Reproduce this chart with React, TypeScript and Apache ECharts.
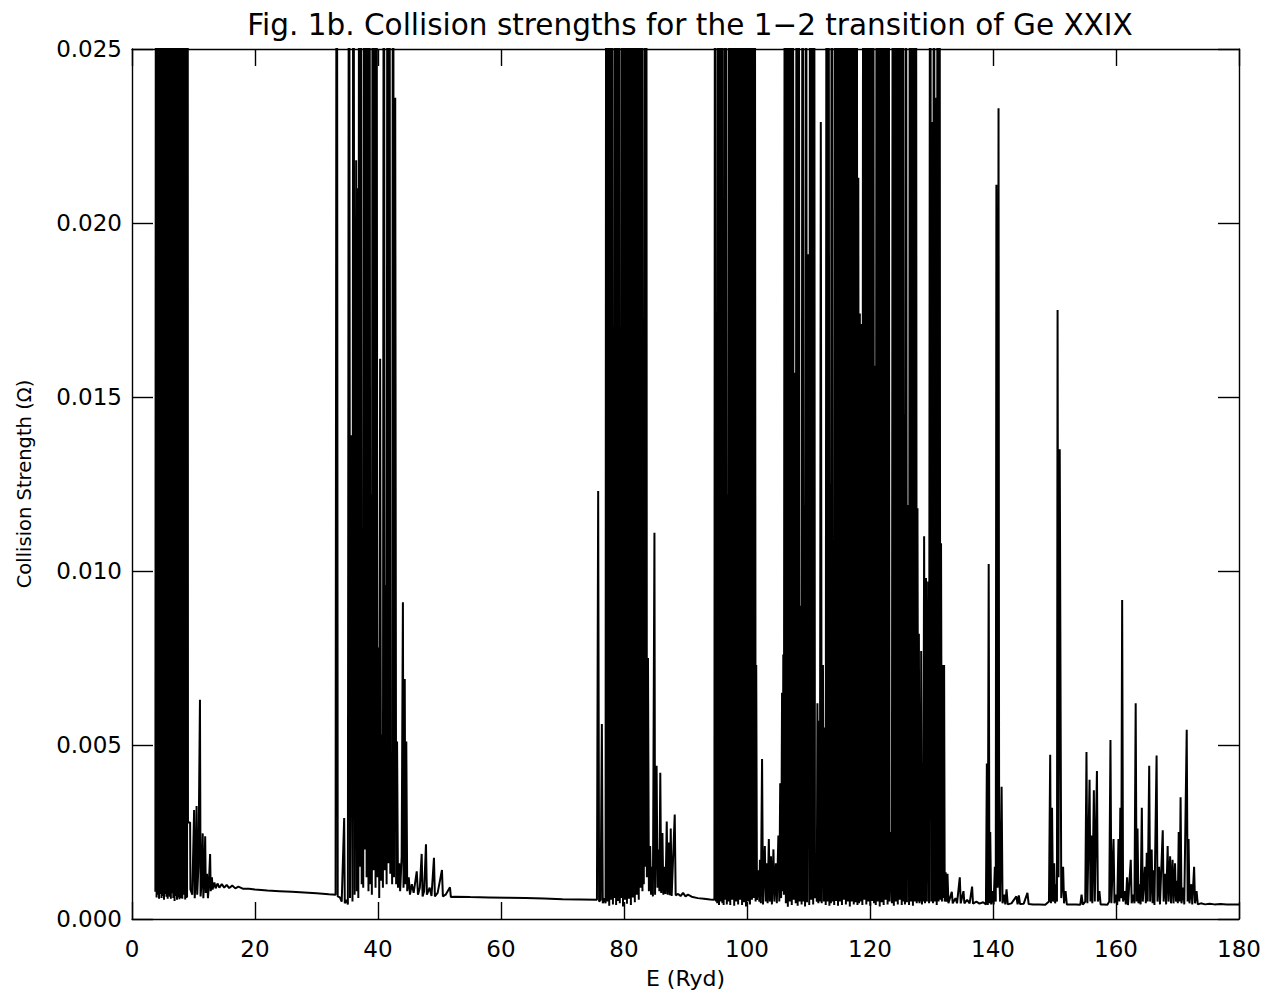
import React, { useEffect, useRef } from "react";
import * as echarts from "echarts";

// Energies in Ryd, collision strength in units of 1e-3 (flat lists: E, Omega*1000, ...)
// values above 25 run off the top of the frame and are clipped, as in the original figure
const thresholdBand: number[] = [
  3.80,0.78, 3.90,40, 4.00,0.62, 4.10,40, 4.20,0.70, 4.30,40, 4.40,0.58, 4.50,40, 4.60,0.72, 4.70,40,
  4.80,0.60, 4.90,40, 5.00,0.66, 5.10,40, 5.20,0.55, 5.30,40, 5.40,0.72, 5.50,40, 5.60,0.64, 5.70,40,
  5.80,0.58, 5.90,40, 6.00,0.70, 6.07,3.5, 6.14,0.64, 6.22,40, 6.32,0.58, 6.42,40, 6.52,0.74, 6.62,40,
  6.72,0.60, 6.82,40, 6.92,0.52, 7.02,40, 7.12,0.66, 7.22,40, 7.32,0.55, 7.42,40, 7.52,0.62, 7.62,40,
  7.72,0.57, 7.80,40, 7.88,0.60, 7.93,15.7, 7.98,0.60, 8.08,40, 8.18,0.58, 8.26,40, 8.33,0.70, 8.38,12.0,
  8.45,0.70, 8.55,40, 8.65,0.56, 8.72,40, 8.79,0.60, 8.85,19.5, 8.95,0.62, 9.05,40, 9.10,2.77, 9.45,2.77,
  9.50,0.85,
];
const lowTail1: number[] = [
  9.80,0.70, 10.10,3.13, 10.20,0.60, 10.35,1.2, 10.50,3.25, 10.60,0.70, 10.80,1.5, 11.05,6.3, 11.15,0.65,
  11.30,1.0, 11.50,2.46, 11.60,0.60, 11.75,1.2, 11.90,2.38, 12.00,0.75, 12.20,1.3, 12.35,0.60, 12.50,1.0,
  12.70,1.87, 12.80,0.80, 13.00,1.2, 13.10,0.85, 13.40,1.05, 13.60,0.88, 13.90,1.02, 14.20,0.90, 14.60,1.0,
  15.00,0.90, 15.40,0.98, 15.80,0.89, 16.30,0.96, 16.80,0.88, 17.30,0.93, 18.00,0.87, 19.00,0.87, 20.00,0.85,
  22.00,0.82, 24.00,0.80, 26.00,0.78, 28.00,0.76, 30.00,0.74, 32.00,0.71, 33.10,0.70,
];
const band2: number[] = [
  33.30,40, 33.45,0.65, 33.80,0.62, 34.10,0.50, 34.50,2.9, 34.60,0.45, 34.90,0.55, 35.10,0.42, 35.30,40,
  35.45,0.60, 35.70,13.9, 35.85,0.50, 36.00,40, 36.20,0.70, 36.45,21.8, 36.55,0.80, 36.65,21.0, 36.80,0.60,
  36.95,40, 37.10,1.5, 37.20,40, 37.35,1.0, 37.45,7.2, 37.60,0.90, 37.75,40, 37.90,2.0, 38.00,40, 38.15,1.2,
  38.30,40, 38.45,0.80, 38.60,40, 38.75,1.0, 38.90,12.2, 39.00,0.70, 39.15,40, 39.30,1.4, 39.45,40, 39.60,0.90,
  39.75,40, 39.90,1.2, 40.05,7.8, 40.20,0.60, 40.35,16.1, 40.50,1.1, 40.65,5.3, 40.80,0.90, 40.95,40, 41.10,1.4,
  41.25,9.6, 41.40,1.0, 41.55,40, 41.70,1.6, 41.85,40, 42.00,1.3, 42.15,4.7, 42.30,1.0, 42.45,40, 42.60,1.2,
  42.80,23.6, 42.95,1.0, 43.10,5.1, 43.25,0.90, 43.45,1.6, 43.60,0.80, 43.85,1.8, 44.05,9.1, 44.15,0.90,
  44.35,6.9, 44.45,1.0, 44.60,5.1, 44.75,0.80, 45.00,1.2, 45.20,0.70, 45.50,1.0, 45.80,0.75, 46.30,1.37,
  46.50,0.70, 46.80,0.90, 47.10,1.87, 47.25,0.65, 47.50,0.80, 47.80,2.15, 47.95,0.70, 48.40,0.90, 48.70,0.66,
  49.10,1.76, 49.25,0.65, 49.70,0.75, 50.40,1.41, 50.55,0.65, 51.00,0.70, 51.70,0.91, 51.85,0.63,
];
const plateau2: number[] = [
  52.5,0.64, 55,0.63, 58,0.62, 61,0.61, 64,0.60, 67,0.59, 70,0.57, 73,0.56, 75.6,0.55, 75.8,12.3,
  75.95,0.50, 76.2,0.55, 76.4,5.6, 76.55,0.45, 76.8,0.60,
];
const band3: number[] = [
  77.00,0.45, 77.12,40, 77.28,0.50, 77.44,40, 77.60,0.38, 77.76,40, 77.92,0.55, 78.08,40, 78.20,0.42, 78.30,6.7,
  78.42,0.60, 78.56,40, 78.72,0.40, 78.88,40, 79.04,0.52, 79.20,40, 79.32,0.45, 79.42,12.2, 79.54,0.60, 79.68,40,
  79.84,0.36, 80.00,40, 80.16,0.55, 80.32,40, 80.48,0.44, 80.64,40, 80.80,0.58, 80.96,40, 81.12,0.40, 81.28,40,
  81.44,0.62, 81.60,40, 81.76,0.48, 81.92,40, 82.08,0.70, 82.24,40, 82.40,0.55, 82.56,40, 82.72,0.90, 82.88,40,
  83.00,0.80, 83.10,14, 83.22,1.0, 83.36,40, 83.50,1.5, 83.62,40, 83.72,1.2, 83.90,7.5, 84.05,0.80, 84.25,2.1,
  84.40,0.70, 84.55,1.5, 84.70,0.65, 84.95,11.1, 85.05,0.70, 85.30,4.4, 85.45,0.90, 85.60,2.0, 85.75,0.80,
  85.90,4.2, 86.05,0.75, 86.25,2.47, 86.40,0.70, 86.60,1.5, 86.75,0.72, 86.95,2.8, 87.10,0.70, 87.30,2.2,
  87.45,0.68, 87.60,2.6, 87.75,0.66, 88.25,3.0, 88.40,0.68, 88.80,0.72, 89.20,0.66, 89.60,0.75, 90.00,0.65,
  90.40,0.70, 91.00,0.64, 92.00,0.60, 93.00,0.58, 94.00,0.56, 94.70,0.55,
];
const band4: number[] = [
  94.80,40, 94.95,0.50, 95.05,9.9, 95.15,0.45, 95.30,40, 95.45,0.40, 95.60,40, 95.75,0.50, 95.90,40, 96.00,0.45,
  96.10,16.8, 96.20,0.40, 96.35,40, 96.50,0.55, 96.60,40, 96.72,0.42, 96.85,12.2, 96.98,0.50, 97.12,40, 97.28,0.40,
  97.44,40, 97.60,0.55, 97.76,40, 97.92,0.38, 98.08,40, 98.24,0.50, 98.40,40, 98.56,0.42, 98.72,40, 98.88,0.55,
  99.04,40, 99.20,0.40, 99.36,40, 99.52,0.48, 99.68,40, 99.84,0.36, 100.00,40, 100.16,0.50, 100.32,40, 100.48,0.42,
  100.64,40, 100.80,0.55, 100.96,40, 101.10,0.60, 101.25,40, 101.40,0.50, 101.50,7.3, 101.62,0.55, 101.85,1.4,
  102.00,0.50, 102.10,1.7, 102.25,0.45, 102.45,4.6, 102.60,0.42, 102.90,2.1, 103.05,0.50, 103.20,1.6, 103.35,0.45,
  103.55,2.3, 103.70,0.50, 103.90,1.8, 104.05,0.42, 104.30,2.0, 104.45,0.50, 104.70,1.6, 104.85,0.45, 105.10,2.4,
  105.25,0.50, 105.40,3.9, 105.55,0.60, 105.70,6.5, 105.80,0.80, 105.90,7.6, 106.00,0.70,
];
const band5: number[] = [
  106.16,40, 106.32,0.45, 106.48,40, 106.64,0.35, 106.80,40, 106.96,0.50, 107.12,40, 107.28,0.40, 107.44,40,
  107.60,0.55, 107.76,15.7, 107.92,0.45, 108.08,40, 108.24,0.38, 108.40,40, 108.56,0.50, 108.72,9.0, 108.88,0.42,
  109.04,40, 109.20,0.50, 109.32,11.9, 109.44,0.36, 109.60,40, 109.76,0.48, 109.96,19.1, 110.12,0.40, 110.28,40,
  110.44,0.55, 110.60,40, 110.76,0.42, 110.90,40, 111.05,0.60, 111.20,1.5, 111.35,0.50, 111.45,6.2, 111.60,0.45,
  111.72,5.7, 111.85,0.50, 112.00,22.9, 112.15,0.45, 112.35,7.3, 112.50,0.50, 112.65,5.5, 112.80,0.40, 112.95,40,
  113.10,0.50, 113.25,40, 113.40,0.38, 113.52,12.5, 113.64,0.45, 113.80,40, 113.92,0.50, 114.05,4.6, 114.18,0.40,
  114.32,40, 114.48,0.52, 114.64,40, 114.80,0.38, 114.96,40, 115.12,0.50, 115.28,40, 115.44,0.40, 115.60,40,
  115.76,0.55, 115.92,40, 116.08,0.42, 116.24,40, 116.40,0.50, 116.56,40, 116.72,0.36, 116.88,40, 117.04,0.50,
  117.20,40, 117.36,0.42, 117.52,40, 117.68,0.48, 117.84,40, 117.96,0.40, 118.10,21.3, 118.22,0.45, 118.35,17.4,
  118.48,0.50, 118.62,17.1, 118.76,0.40, 118.92,40, 119.08,0.55, 119.24,40, 119.40,0.42, 119.56,40, 119.72,0.50,
  119.88,40, 120.04,0.38, 120.20,40, 120.36,0.52, 120.52,40, 120.66,0.45, 120.80,15.9, 120.94,0.40, 121.10,40,
  121.26,0.50, 121.42,40, 121.58,0.36, 121.74,40, 121.90,0.48, 122.06,40, 122.22,0.40, 122.38,40, 122.54,0.55,
  122.70,40, 122.86,0.42, 123.02,40, 123.18,0.50, 123.40,2.5, 123.56,0.45, 123.72,40, 123.88,0.38, 124.04,40,
  124.20,0.50, 124.36,40, 124.52,0.42, 124.68,40, 124.84,0.55, 125.00,40, 125.16,0.40, 125.32,40, 125.45,0.50,
  125.55,14.5, 125.68,0.42, 125.84,40, 126.00,0.48, 126.20,11.9, 126.35,0.40, 126.50,40, 126.66,0.50, 126.82,40,
  126.98,0.38, 127.14,40, 127.30,0.50, 127.46,40, 127.60,0.45, 127.72,11.8, 127.85,0.50, 127.95,8.2, 128.05,0.45,
  128.15,3.5, 128.25,0.50, 128.32,7.7, 128.45,0.42, 128.55,3.7, 128.65,0.50, 128.80,11.0, 128.95,0.45, 129.10,9.8,
  129.25,0.50, 129.45,9.7, 129.60,0.45, 129.80,40, 129.95,0.50, 130.10,22.9, 130.25,0.45, 130.40,40, 130.55,0.50,
  130.70,23.6, 130.85,0.40, 131.00,40, 131.15,0.50, 131.30,40, 131.42,0.55, 131.55,10.8, 131.70,0.50, 131.85,7.3,
  131.95,0.60, 132.05,7.3, 132.15,0.50,
];
const highTail: number[] = [
  132.30,1.34, 132.45,0.50, 132.60,1.3, 132.75,0.45, 133.00,0.60, 133.30,0.78, 133.45,0.45, 133.90,0.60,
  134.15,0.45, 134.60,1.2, 134.75,0.45, 135.20,0.80, 135.35,0.45, 135.80,0.55, 136.20,0.45, 136.60,0.93,
  136.75,0.44, 137.30,0.50, 137.80,0.44, 138.40,0.48, 138.85,0.42, 139.00,4.47, 139.15,0.40, 139.30,10.2,
  139.42,0.45, 139.55,2.5, 139.70,0.42, 139.90,0.80, 140.10,0.42, 140.30,1.5, 140.45,0.50, 140.55,21.1,
  140.65,2.0, 140.75,0.90, 140.90,23.3, 141.00,1.5, 141.15,0.50, 141.40,3.8, 141.55,0.45, 141.80,0.70,
  142.00,0.42, 142.20,0.85, 142.40,0.42, 143.00,0.45, 143.80,0.65, 144.00,0.42, 144.20,0.68, 144.40,0.43,
  145.00,0.44, 145.60,0.75, 145.80,0.43, 146.50,0.42, 147.50,0.42, 148.50,0.41, 149.10,0.50, 149.30,4.72,
  149.42,0.45, 149.60,3.2, 149.75,0.50, 149.95,1.6, 150.10,0.45, 150.30,1.0, 150.40,0.50, 150.50,17.5,
  150.65,1.2, 150.85,13.5, 150.95,8.3, 151.10,0.60, 151.25,1.0, 151.40,1.5, 151.55,0.45, 151.80,0.80,
  152.00,0.42, 152.80,0.42, 153.50,0.42, 154.20,0.41, 154.40,0.70, 154.60,0.41, 155.00,0.50, 155.20,4.8,
  155.35,0.45, 155.70,4.0, 155.85,0.50, 156.00,2.4, 156.15,0.45, 156.40,3.7, 156.55,0.50, 156.90,4.25,
  157.05,0.50, 157.30,0.80, 157.50,0.42, 158.00,0.42, 158.60,0.41, 158.90,0.50, 159.10,5.14, 159.25,0.45,
  159.60,2.3, 159.75,0.45, 160.00,0.70, 160.20,0.40, 160.40,2.3, 160.55,0.50, 160.70,3.2, 160.85,0.60,
  161.00,9.17, 161.15,0.50, 161.40,0.80, 161.60,0.42, 161.80,1.2, 161.95,0.40, 162.40,1.7, 162.55,0.45,
  162.80,0.70, 163.00,0.45, 163.20,6.2, 163.35,0.50, 163.50,2.6, 163.65,0.45, 163.85,1.0, 164.00,0.42,
  164.20,3.2, 164.35,0.50, 164.70,1.5, 164.85,0.45, 165.00,1.9, 165.15,0.50, 165.40,4.4, 165.55,0.50,
  165.80,2.0, 165.95,0.45, 166.10,1.4, 166.25,0.40, 166.60,4.7, 166.75,0.50, 167.00,1.5, 167.15,0.42,
  167.60,2.55, 167.75,0.50, 168.00,1.3, 168.15,0.42, 168.40,2.1, 168.55,0.50, 168.80,1.8, 168.95,0.45,
  169.20,1.7, 169.35,0.45, 169.60,1.6, 169.75,0.50, 169.95,1.1, 170.05,0.45, 170.20,2.5, 170.35,0.50,
  170.50,3.5, 170.65,0.45, 170.95,0.90, 171.10,0.42, 171.50,5.44, 171.65,0.50, 171.80,2.3, 171.95,0.45,
  172.25,1.0, 172.40,0.42, 172.70,1.5, 172.85,0.45, 173.10,0.80, 173.30,0.42, 173.80,0.45, 174.50,0.42,
  175.20,0.44, 176.00,0.42, 177.00,0.43, 178.00,0.42, 179.00,0.42, 180.00,0.42,
];

const xTicks = [0, 20, 40, 60, 80, 100, 120, 140, 160, 180];
const yTicks = ["0.000", "0.005", "0.010", "0.015", "0.020", "0.025"];

const titleText = "Fig. 1b. Collision strengths for the 1\u22122 transition of Ge XXIX";
const xName = "E (Ryd)";
const yName = "Collision Strength (\u03A9)";

function toPairs(flat: number[]): [number, number][] {
  const out: [number, number][] = [];
  for (let i = 0; i + 1 < flat.length; i += 2) out.push([flat[i], flat[i + 1] / 1000]);
  return out;
}

const FONT = "DejaVu Sans";

export default function App() {
  const ref = useRef<HTMLDivElement>(null);
  useEffect(() => {
    if (!ref.current) return;
    const chart = echarts.init(ref.current, null, { renderer: "svg" });
    const data = [
      ...toPairs(thresholdBand),
      ...toPairs(lowTail1),
      ...toPairs(band2),
      ...toPairs(plateau2),
      ...toPairs(band3),
      ...toPairs(band4),
      ...toPairs(band5),
      ...toPairs(highTail),
    ];
    const xMin = xTicks[0];
    const xMax = xTicks[xTicks.length - 1];
    const xInt = xTicks[1] - xTicks[0];
    const yMin = parseFloat(yTicks[0]);
    const yMax = parseFloat(yTicks[yTicks.length - 1]);
    const yInt = parseFloat(yTicks[1]) - parseFloat(yTicks[0]);
    const axisLine = { show: true, onZero: false, lineStyle: { color: "#000", width: 1.4 } };
    const tickX = { show: true, inside: true, length: 17, lineStyle: { color: "#000", width: 1.4 } };
    const tickY = { show: true, inside: true, length: 21, lineStyle: { color: "#000", width: 1.4 } };
    chart.setOption({
      animation: false,
      backgroundColor: "#fff",
      title: {
        text: titleText,
        left: 685,
        top: 5,
        textAlign: "center",
        textStyle: { fontFamily: FONT, fontSize: 29.5, fontWeight: "normal", color: "#000" },
      },
      grid: { left: 132, right: 41, top: 49, bottom: 76, show: false },
      xAxis: [
        {
          type: "value",
          min: xMin,
          max: xMax,
          interval: xInt,
          position: "bottom",
          axisLine,
          axisTick: tickX,
          splitLine: { show: false },
          axisLabel: { color: "#000", fontFamily: FONT, fontSize: 23, margin: 18 },
          name: xName,
          nameLocation: "middle",
          nameGap: 48,
          nameTextStyle: { color: "#000", fontFamily: FONT, fontSize: 22 },
        },
        {
          type: "value",
          min: xMin,
          max: xMax,
          interval: xInt,
          position: "top",
          axisLine,
          axisTick: tickX,
          splitLine: { show: false },
          axisLabel: { show: false },
        },
      ],
      yAxis: [
        {
          type: "value",
          min: yMin,
          max: yMax,
          interval: yInt,
          position: "left",
          axisLine,
          axisTick: tickY,
          splitLine: { show: false },
          axisLabel: {
            color: "#000",
            fontFamily: FONT,
            fontSize: 23,
            margin: 10,
            formatter: (v: number) => v.toFixed(3),
          },
          name: yName,
          nameLocation: "middle",
          nameGap: 98,
          nameTextStyle: { color: "#000", fontFamily: FONT, fontSize: 19.5 },
        },
        {
          type: "value",
          min: yMin,
          max: yMax,
          interval: yInt,
          position: "right",
          axisLine,
          axisTick: tickY,
          splitLine: { show: false },
          axisLabel: { show: false },
        },
      ],
      series: [
        {
          type: "line",
          xAxisIndex: 0,
          yAxisIndex: 0,
          data,
          showSymbol: false,
          symbol: "none",
          clip: true,
          lineStyle: { color: "#000", width: 2 },
          emphasis: { disabled: true },
        },
      ],
    });
    return () => chart.dispose();
  }, []);
  return (
    <div
      ref={ref}
      style={{ position: "fixed", left: 0, top: 0, width: 1280, height: 995, background: "#fff" }}
    />
  );
}
